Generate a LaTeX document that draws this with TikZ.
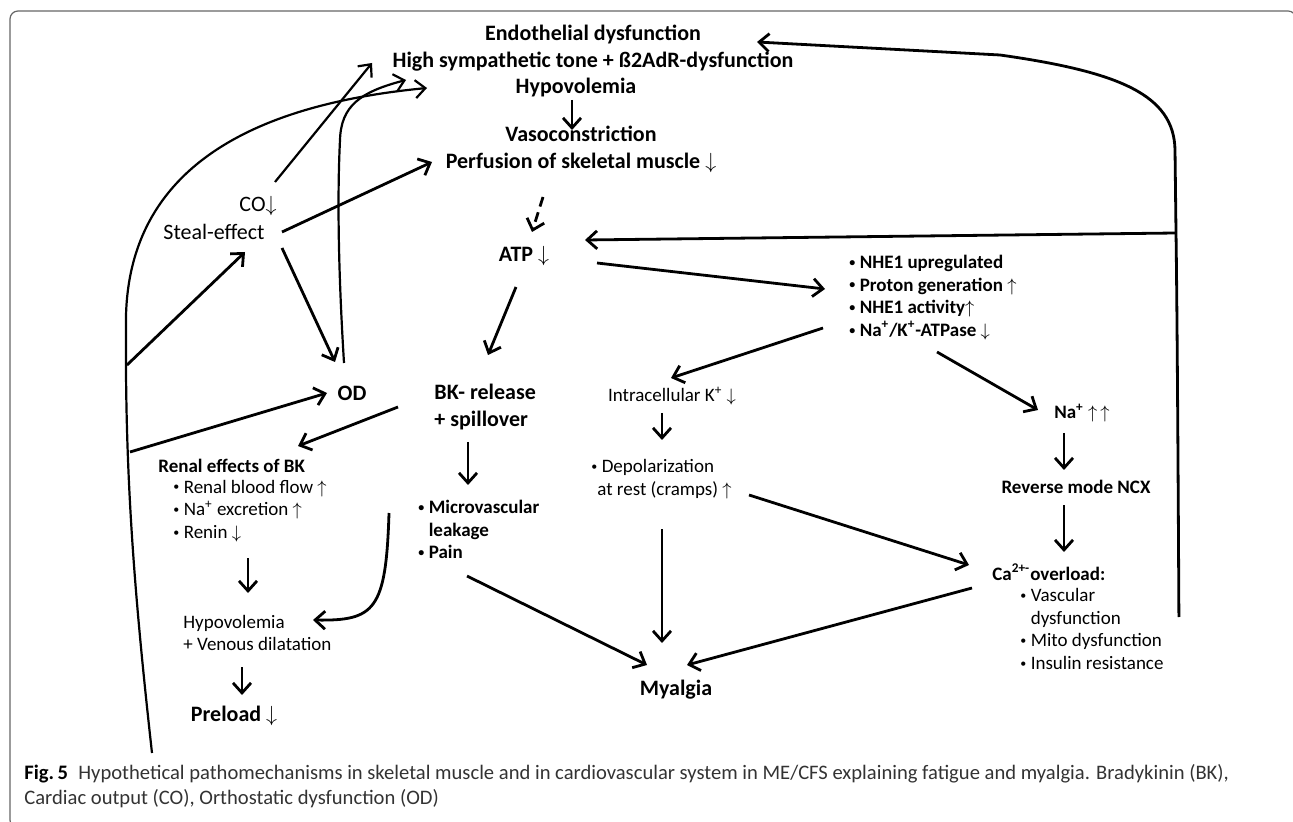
\documentclass[tikz,border=0pt]{standalone}
\usepackage{fontspec}
\setmainfont{Carlito}
\usetikzlibrary{positioning,arrows.meta}
\def\dnar{$\downarrow$}
\def\upar{$\uparrow$}
\def\bul{\raisebox{0.25ex}{\fontsize{6}{6}\selectfont\textbullet}\kern2.2pt}

\begin{document}
\begin{tikzpicture}[x=0.5pt, y=-0.5pt, line width=1.4pt,
    >={Straight Barb[length=5pt,width=9pt]},
    toptext/.style={font=\fontsize{11}{13.5}\selectfont\bfseries, align=center, inner sep=1pt},
    toplight/.style={font=\fontsize{11}{13.5}\selectfont, align=center, inner sep=1pt},
    subtext/.style={font=\fontsize{9.5}{11.3}\selectfont, align=left, inner sep=1pt},
    subbold/.style={font=\fontsize{9.5}{11.3}\selectfont\bfseries, align=left, inner sep=1pt},
    capt/.style={font=\fontsize{10.3}{12.4}\selectfont, align=left, inner sep=0pt, text=black!80},
    loop/.style={->, line width=1.1pt}]
	\useasboundingbox (0,0) rectangle (1293,822);
	\clip (0,0) rectangle (1293,822);
	\draw[black!60, line width=0.6pt, rounded corners=4pt] (10,11) rectangle (1296,828);

	% top of the cascade
	\node[toptext] (sympa) at (593,48.5) {Endothelial dysfunction\\High sympathetic tone + ß2AdR-dysfunction};
	\node[toptext] (hypo) at (576,88) {Hypovolemia};
	\node[toptext] (vaso) at (581,149.5) {Vasoconstriction\\Perfusion of skeletal muscle \dnar};
	\node[toptext] (atp) at (524,256) {ATP \dnar};
	\node[toplight] (co) at (258,206) {CO\dnar};
	\node[toplight] (steal) at (214,232) {Steal-effect};
	\node[toptext] (od) at (352,393) {OD};
	\node[toptext, align=left, anchor=west] (bk) at (431,407) {BK- release\\+ spillover};

	% muscle cell
	\node[subbold, anchor=west] (nhe) at (846,297.5) {\bul NHE1 upregulated\\\bul Proton generation \upar\\\bul NHE1 activity\upar\\\bul Na\textsuperscript{+}/K\textsuperscript{+}-ATPase \dnar};
	\node[subtext] (intk) at (672,396) {Intracellular K\textsuperscript{+} \dnar};
	\node[subbold] (nap) at (1082,413) {Na\textsuperscript{+} \upar\,\upar};
	\node[subbold] (ncx) at (1076,487) {Reverse mode NCX};
	\node[subtext, anchor=west] (depol) at (588,479) {\bul Depolarization\\\hspace*{3pt}at rest (cramps) \upar};
	\node[subbold, anchor=west] (ca) at (989,572) {Ca\textsuperscript{2+-}overload:};
	\node[subtext, anchor=west] (calist) at (1017,629) {\bul Vascular\\\phantom{\bul}dysfunction\\\bul Mito dysfunction\\\bul Insulin resistance};
	\node[toptext] (myal) at (676,690) {Myalgia};
	\node[subbold, anchor=west] (micro) at (415,529.5) {\bul Microvascular\\\phantom{\bul}leakage\\\bul Pain};

	% kidney and circulation
	\node[subbold, anchor=west] (renal) at (155,466) {Renal effects of BK};
	\node[subtext, anchor=west] (renlist) at (170,511) {\bul Renal blood flow \upar\\\bul Na\textsuperscript{+} excretion \upar\\\bul Renin \dnar};
	\node[subtext, anchor=west] (hypv) at (180,633) {Hypovolemia\\+ Venous dilatation};
	\node[toptext] (prel) at (234,716) {Preload \dnar};

	\node[capt, anchor=west] (cap) at (23,786) {\textbf{\color{black}Fig.\,5}\enspace Hypothetical pathomechanisms in skeletal muscle and in cardiovascular system in ME/CFS explaining fatigue and myalgia. Bradykinin (BK),\\Cardiac output (CO), Orthostatic dysfunction (OD)};

	\coordinate (jn) at (1176,233);
	\coordinate (brA) at (127,365);
	\coordinate (brB) at (130,452);

	\draw[->] ([shift={(-4,12)}]hypo.center) -- ([shift={(-9,-19.5)}]vaso.center);
	\draw[->, dash pattern=on 5pt off 3pt] ([shift={(-38,47.5)}]vaso.center) -- ([shift={(8,-24)}]atp.center);
	\draw[->] ([shift={(73,7)}]atp.center) -- ([shift={(-21,-8.5)}]nhe.west);
	\draw[->] (jn) -- ([shift={(61,-16)}]atp.center);
	\draw[->] ([shift={(12,-12)}]calist.east) .. controls (1178,450) and (1177,300) .. (jn)
		-- (1175,150) .. controls (1174,95) and (1120,72) .. (1000,55) -- ([shift={(164,-6.5)}]sympa.center);
	\draw[->] ([shift={(-23,30.5)}]nhe.west) -- ([shift={(-1,-18)}]intk.center);
	\draw[->] ([shift={(91,54.5)}]nhe.west) -- ([shift={(-44,-3)}]nap.center);
	\draw[->] ([shift={(-18,20)}]nap.center) -- ([shift={(-12,-17)}]ncx.center);
	\draw[->] ([shift={(-12,18)}]ncx.center) -- ([shift={(75,-20)}]ca.west);
	\draw[->] ([shift={(-10,17)}]intk.center) -- ([shift={(74,-39)}]depol.west);
	\draw[->] ([shift={(74,50)}]depol.west) -- ([shift={(-14,-47)}]myal.center);
	\draw[->] ([shift={(161,16)}]depol.west) -- ([shift={(-20,-7)}]ca.west);
	\draw[->] ([shift={(-17,16)}]ca.west) -- ([shift={(11,-25)}]myal.center);
	\draw[->] ([shift={(52,46.5)}]micro.west) -- ([shift={(-29,-25)}]myal.center);
	\draw[->] ([shift={(37,35)}]bk.west) -- ([shift={(53,-44.5)}]micro.west);
	\draw[->] ([shift={(-8,31)}]atp.center) -- ([shift={(57,-52)}]bk.west);
	\draw[->] ([shift={(-33,0)}]bk.west) -- ([shift={(143,-20)}]renal.west);
	\draw[->] ([shift={(78,47)}]renlist.west) -- ([shift={(68,-40)}]hypv.west);
	\draw[->] ([shift={(62,34)}]hypv.west) -- ([shift={(8,-21)}]prel.center);
	\draw[->] ([shift={(219,2)}]renlist.west) .. controls (386,610) and (375,621) .. ([shift={(133,-13)}]hypv.west);
	\draw[->] ([shift={(68,16)}]steal.center) -- ([shift={(-17,-31)}]od.center);
	\draw[->] ([shift={(68,0)}]steal.center) -- ([shift={(-149,12.5)}]vaso.center);
	\draw[loop] ([shift={(17,-24)}]co.center) -- ([shift={(-221,14.5)}]sympa.center);
	\draw[loop] ([shift={(-8,-30)}]od.center) .. controls (337,250) and (338,180) .. (340,140)
		.. controls (341,106) and (360,92) .. ([shift={(-187,31.5)}]sympa.center);
	\draw[loop] ([shift={(-82,37)}]prel.center) .. controls (135,600) and (125,480) .. (126,330)
		.. controls (122,170) and (250,105) .. ([shift={(-166,39.5)}]sympa.center);
	\draw[->] (brA) -- ([shift={(31,20)}]steal.center);
	\draw[->] (brB) -- ([shift={(-25,0)}]od.center);
\end{tikzpicture}
\end{document}
